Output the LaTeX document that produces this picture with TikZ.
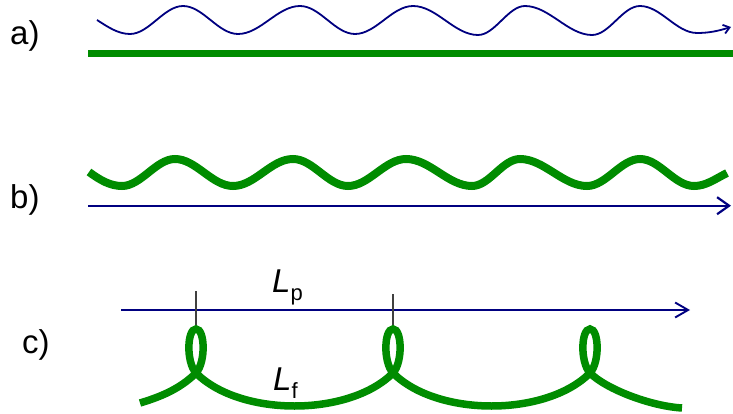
\documentclass[tikz,border=0pt]{standalone}
\usepackage{fontspec}
\setmainfont{Liberation Sans}
\usetikzlibrary{arrows.meta}
\definecolor{fgreen}{RGB}{0,140,0}
\definecolor{fblue}{RGB}{0,0,128}
\begin{document}
\begin{tikzpicture}[x=1pt,y=-1pt,
  lbl/.style={anchor=base west,inner sep=0pt,font=\fontsize{33}{38}\selectfont},
  wavea/.style={draw=fblue,line width=1.8pt},
  thickg/.style={draw=fgreen,line width=7.5pt},
  bluel/.style={draw=fblue,line width=2.2pt},
  tick/.style={draw=black!75,line width=1.1pt}]
\useasboundingbox (0,0) rectangle (733,414);
% labels
\node[lbl] (la) at (10,45) {a)};
\node[lbl] (lb) at (10,208) {b)};
\node[lbl] (lc) at (22,353) {c)};
\node[lbl] (lp) at (272,292) {\itshape L\/\raisebox{-8pt}{\upshape\fontsize{22}{24}\selectfont p}};
\node[lbl] (lf) at (273,390) {\itshape L\/\raisebox{-8pt}{\upshape\fontsize{22}{24}\selectfont f}};
% coordinates
\coordinate (a0) at (97,20);
\coordinate (a1) at (731,27);
\coordinate (g0) at (88,53.7);
\coordinate (g1) at (733,53.7);
\coordinate (b0) at (88,205.7);
\coordinate (b1) at (731,205.7);
\coordinate (c0) at (121,310);
\coordinate (c1) at (690,310);
% a) wave
\draw[wavea,-{Straight Barb[length=6pt,width=9pt]}] (a0)
  .. controls (108,27) and +(-12,0) .. (130,34)
  .. controls +(19,0) and +(-19,0) .. (183,6)
  .. controls +(20,0) and +(-20,0) .. (238,34)
  .. controls +(22.5,0) and +(-22.5,0) .. (300,6)
  .. controls +(20,0) and +(-20,0) .. (355,34)
  .. controls +(21,0) and +(-21,0) .. (413,6)
  .. controls +(23.6,0) and +(-23.6,0) .. (478,35)
  .. controls +(17,0) and +(-17,0) .. (525,6)
  .. controls +(24,0) and +(-24,0) .. (592,35)
  .. controls +(17.5,0) and +(-17.5,0) .. (640,6)
  .. controls +(20.7,0) and +(-20.7,0) .. (697,33)
  .. controls +(12,0) and (718,31) .. (a1);
\draw[thickg,line cap=butt] (g0) -- (g1);
% b) wave
\draw[draw=fgreen,line width=8pt] (89,172)
  .. controls (100,180) and +(-12,0) .. (122,186)
  .. controls +(19,0) and +(-19,0) .. (175,159)
  .. controls +(21,0) and +(-21,0) .. (233,186)
  .. controls +(22,0) and +(-22,0) .. (293,159)
  .. controls +(20,0) and +(-20,0) .. (348,186)
  .. controls +(21,0) and +(-21,0) .. (406,159)
  .. controls +(24,0) and +(-24,0) .. (472,186)
  .. controls +(17.5,0) and +(-17.5,0) .. (520,159)
  .. controls +(24,0) and +(-24,0) .. (587,186)
  .. controls +(19,0) and +(-19,0) .. (640,159)
  .. controls +(19.6,0) and +(-19.6,0) .. (694,186)
  .. controls +(12,0) and (715,179) .. (727,173);
\draw[bluel,-{Straight Barb[length=12pt,width=17pt]}] (b0) -- (b1);
% c)
\draw[bluel,line width=1.9pt,-{Straight Barb[length=13pt,width=15pt]}] (c0) -- (c1);
\draw[tick] (196,291) -- (196,328);
\draw[tick] (393,294) -- (393,332);
\draw[draw=fgreen,line width=7.5pt] (140,403)
  .. controls (160,397) and (180,389) .. (196,373)
  .. controls (206,362) and (205,329) .. (196,329)
  .. controls (187,329) and (186,362) .. (196,373)
  .. controls (240,417) and (349,417) .. (393,373)
  .. controls (403,362) and (402,329) .. (393,329)
  .. controls (384,329) and (383,362) .. (393,373)
  .. controls (437,417) and (546,417) .. (590,373)
  .. controls (600,362) and (599,329) .. (590,329)
  .. controls (581,329) and (580,362) .. (590,373)
  .. controls (606,389) and (650,406) .. (682,408);
\end{tikzpicture}
\end{document}
